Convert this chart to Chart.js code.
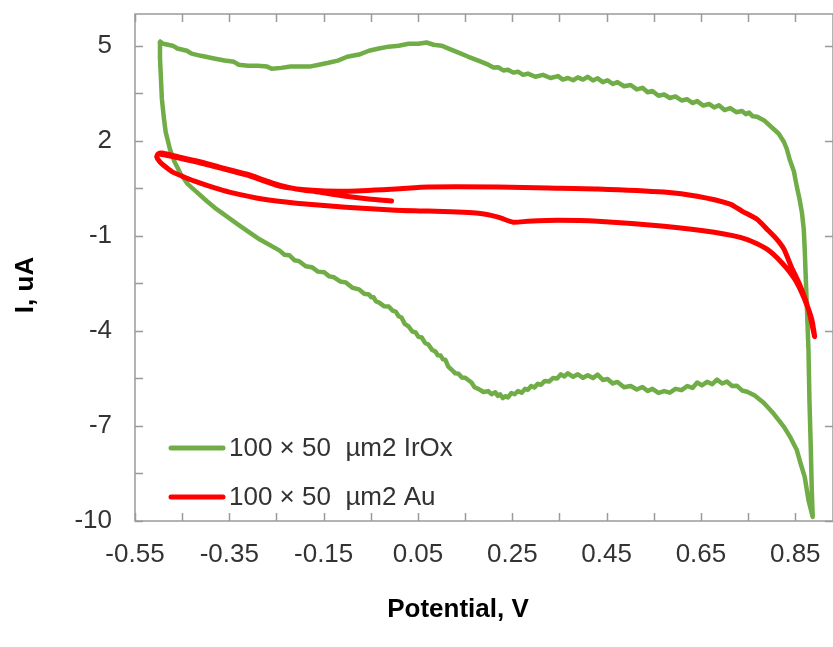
<!DOCTYPE html>
<html>
<head>
<meta charset="utf-8">
<script src="https://cdn.jsdelivr.net/npm/chart.js@4/dist/chart.umd.min.js"></script>
<style>
  html, body { margin: 0; padding: 0; background: #fff; }
  #wrap { width: 833px; height: 647px; }
</style>
</head>
<body>
<div id="wrap"><canvas id="cv" width="833" height="647"></canvas></div>
<script>
// --- SERIES DATA: [potential V, current uA], in scan order ---
const irOxCurve = [
  // forward sweep
  [-0.50, 5.16], [-0.49, 5.06], [-0.47, 5.00], [-0.46, 4.91], [-0.44, 4.84], [-0.43, 4.75],
  [-0.41, 4.68], [-0.40, 4.65], [-0.38, 4.59], [-0.36, 4.53], [-0.34, 4.49], [-0.33, 4.40],
  [-0.31, 4.37], [-0.29, 4.37], [-0.27, 4.34], [-0.26, 4.27], [-0.24, 4.30], [-0.22, 4.34],
  [-0.20, 4.34], [-0.18, 4.34], [-0.16, 4.40], [-0.14, 4.46], [-0.12, 4.53], [-0.10, 4.65],
  [-0.075, 4.72], [-0.054, 4.84], [-0.033, 4.91], [-0.012, 4.97], [0.009, 5.00], [0.030, 5.06],
  [0.051, 5.06], [0.068, 5.10], [0.083, 5.03], [0.100, 5.00], [0.115, 4.91], [0.136, 4.78],
  [0.157, 4.65], [0.178, 4.53], [0.199, 4.40], [0.210, 4.31], [0.220, 4.32], [0.231, 4.22],
  [0.241, 4.24], [0.252, 4.15], [0.262, 4.18], [0.273, 4.08], [0.283, 4.12], [0.299, 4.02],
  [0.315, 4.08], [0.331, 3.98], [0.347, 4.04], [0.357, 3.93], [0.368, 3.98], [0.379, 3.91],
  [0.389, 4.00], [0.400, 3.93], [0.410, 4.02], [0.421, 3.90], [0.431, 3.97], [0.442, 3.85],
  [0.452, 3.91], [0.463, 3.79], [0.473, 3.85], [0.487, 3.72], [0.501, 3.76], [0.514, 3.62],
  [0.526, 3.67], [0.537, 3.53], [0.547, 3.57], [0.560, 3.42], [0.572, 3.46], [0.584, 3.35],
  [0.596, 3.40], [0.609, 3.27], [0.621, 3.31], [0.632, 3.19], [0.642, 3.25], [0.655, 3.11],
  [0.667, 3.16], [0.678, 3.05], [0.688, 3.12], [0.700, 2.97], [0.712, 3.03], [0.725, 2.90],
  [0.737, 2.94], [0.745, 2.84], [0.752, 2.89], [0.760, 2.77], [0.769, 2.76], [0.785, 2.63],
  [0.804, 2.37], [0.815, 2.22], [0.826, 1.96], [0.832, 1.74], [0.838, 1.42], [0.847, 1.04],
  [0.853, 0.57], [0.859, 0.16], [0.864, -0.25], [0.868, -0.79], [0.870, -1.42], [0.874, -3.01],
  [0.878, -4.59], [0.880, -6.17], [0.883, -7.75], [0.885, -9.02], [0.887, -9.87],
  // reverse sweep
  [0.878, -9.34], [0.870, -8.61], [0.861, -8.17], [0.853, -7.75], [0.840, -7.37], [0.826, -7.03],
  [0.804, -6.61], [0.783, -6.27], [0.764, -6.04], [0.748, -5.92], [0.737, -5.88], [0.726, -5.73],
  [0.716, -5.74], [0.705, -5.60], [0.695, -5.66], [0.684, -5.54], [0.674, -5.68], [0.663, -5.61],
  [0.652, -5.72], [0.642, -5.63], [0.632, -5.80], [0.621, -5.74], [0.609, -5.87], [0.596, -5.83],
  [0.584, -5.95], [0.572, -5.90], [0.560, -5.96], [0.547, -5.83], [0.537, -5.90], [0.526, -5.77],
  [0.514, -5.85], [0.501, -5.74], [0.487, -5.78], [0.473, -5.61], [0.463, -5.66], [0.452, -5.52],
  [0.442, -5.55], [0.431, -5.38], [0.421, -5.49], [0.410, -5.40], [0.400, -5.48], [0.389, -5.37],
  [0.379, -5.45], [0.368, -5.34], [0.360, -5.44], [0.353, -5.37], [0.345, -5.50], [0.336, -5.49],
  [0.328, -5.60], [0.319, -5.58], [0.311, -5.70], [0.304, -5.67], [0.297, -5.79], [0.290, -5.74],
  [0.283, -5.86], [0.277, -5.83], [0.270, -5.95], [0.262, -5.90], [0.255, -6.00], [0.248, -5.96],
  [0.241, -6.10], [0.235, -6.06], [0.230, -6.12], [0.224, -6.00], [0.219, -6.05], [0.214, -5.94],
  [0.206, -6.00], [0.199, -5.90], [0.189, -5.93], [0.178, -5.83], [0.170, -5.78], [0.163, -5.62],
  [0.150, -5.48], [0.143, -5.47], [0.136, -5.35], [0.129, -5.34], [0.121, -5.22], [0.114, -5.12],
  [0.108, -4.91], [0.103, -4.90], [0.098, -4.78], [0.092, -4.77], [0.087, -4.65], [0.080, -4.60],
  [0.072, -4.43], [0.065, -4.38], [0.058, -4.21], [0.051, -4.19], [0.045, -4.05], [0.038, -4.02],
  [0.030, -3.86], [0.022, -3.78], [0.015, -3.58], [0.009, -3.54], [0.003, -3.39], [-0.004, -3.36],
  [-0.012, -3.23], [-0.022, -3.22], [-0.033, -3.10], [-0.039, -3.07], [-0.044, -2.94], [-0.049, -2.94],
  [-0.054, -2.85], [-0.064, -2.83], [-0.075, -2.69], [-0.089, -2.64], [-0.103, -2.47], [-0.115, -2.44],
  [-0.128, -2.31], [-0.138, -2.28], [-0.149, -2.15], [-0.162, -2.13], [-0.175, -1.99], [-0.188, -1.96],
  [-0.202, -1.80], [-0.212, -1.77], [-0.223, -1.61], [-0.233, -1.60], [-0.244, -1.46],
  [-0.286, -1.11], [-0.329, -0.67], [-0.377, -0.16], [-0.398, 0.10], [-0.419, 0.38], [-0.438, 0.63],
  [-0.453, 0.95], [-0.466, 1.33], [-0.476, 1.74], [-0.485, 2.28], [-0.489, 2.75], [-0.493, 3.32],
  [-0.495, 3.96], [-0.497, 4.59], [-0.497, 5.16]
];

const auCurve = [
  // from open circuit towards the negative limit
  [-0.006, 0.10], [-0.054, 0.16], [-0.103, 0.25], [-0.160, 0.38], [-0.208, 0.48], [-0.244, 0.60],
  [-0.276, 0.76], [-0.314, 0.95], [-0.371, 1.17], [-0.419, 1.36], [-0.466, 1.52], [-0.493, 1.61],
  [-0.501, 1.58],
  // forward sweep
  [-0.504, 1.49], [-0.497, 1.33], [-0.482, 1.14], [-0.470, 1.01], [-0.445, 0.85], [-0.419, 0.70],
  [-0.381, 0.51], [-0.350, 0.38], [-0.280, 0.16], [-0.208, 0.03], [-0.103, -0.10], [0.003, -0.19],
  [0.072, -0.22], [0.178, -0.29], [0.220, -0.41], [0.252, -0.57], [0.283, -0.54], [0.347, -0.51],
  [0.431, -0.54], [0.572, -0.70], [0.678, -0.89], [0.747, -1.11], [0.790, -1.42], [0.821, -1.84],
  [0.849, -2.37], [0.870, -3.01], [0.885, -3.64], [0.891, -4.18],
  // reverse sweep
  [0.878, -3.32], [0.859, -2.53], [0.842, -1.99], [0.826, -1.42], [0.811, -1.11], [0.790, -0.79],
  [0.769, -0.48], [0.737, -0.22], [0.712, 0.00], [0.642, 0.25], [0.572, 0.38], [0.431, 0.48],
  [0.326, 0.51], [0.220, 0.54], [0.072, 0.54], [0.003, 0.48], [-0.103, 0.41], [-0.174, 0.44],
  [-0.244, 0.57], [-0.314, 0.92], [-0.419, 1.33], [-0.476, 1.52], [-0.497, 1.58]
];

const seriesLabels = ['100 \u00d7 50  \u00b5m2 IrOx', '100 \u00d7 50  \u00b5m2 Au'];

// --- AXES ---
const xTicks = [-0.55, -0.35, -0.15, 0.05, 0.25, 0.45, 0.65, 0.85];
const yTicks = [-10, -7, -4, -1, 2, 5];
const xMin = -0.55, xMax = 0.93, xMinorStep = 0.1;
const yMin = -10, yMax = 6, yMinorStep = 1.5;
const xTitle = 'Potential, V';
const yTitle = 'I, uA';

const FONT = '"Liberation Sans", Arial, sans-serif';
const FONT_SIZE = 26;
const AXIS_COLOR = '#9a9a9a';
const TEXT_COLOR = '#333333';

const toPoints = pairs => pairs.map(([v, i]) => ({ x: v, y: i }));

// box frame with inward tick marks on all four sides
const framePlugin = {
  id: 'frame',
  beforeDatasetsDraw(chart) {
    const { ctx, chartArea: a, scales: { x, y } } = chart;
    const len = 8;
    ctx.save();
    ctx.strokeStyle = AXIS_COLOR;
    ctx.lineWidth = 1.5;
    ctx.strokeRect(a.left, a.top, a.right - a.left, a.bottom - a.top);
    ctx.beginPath();
    for (let i = 0; ; i++) {
      const v = xMin + i * xMinorStep;
      if (v > xMax + 1e-9) break;
      const px = Math.round(x.getPixelForValue(v)) + 0.5;
      ctx.moveTo(px, a.bottom); ctx.lineTo(px, a.bottom - len);
      ctx.moveTo(px, a.top); ctx.lineTo(px, a.top + len);
    }
    for (let i = 0; ; i++) {
      const v = yMin + i * yMinorStep;
      if (v > yMax + 1e-9) break;
      const py = Math.round(y.getPixelForValue(v)) + 0.5;
      ctx.moveTo(a.left, py); ctx.lineTo(a.left + len, py);
    }
    yTicks.forEach(v => {
      const py = Math.round(y.getPixelForValue(v)) + 0.5;
      ctx.moveTo(a.right, py); ctx.lineTo(a.right - len, py);
    });
    ctx.stroke();
    ctx.restore();
  },
  afterDraw(chart) {
    const { ctx, chartArea: a } = chart;
    ctx.save();
    // legend inside the plot, lower left
    ctx.font = FONT_SIZE + 'px ' + FONT;
    ctx.textBaseline = 'middle';
    ctx.textAlign = 'left';
    const rows = [a.bottom - 73, a.bottom - 24];
    chart.data.datasets.forEach((ds, i) => {
      const yy = rows[i];
      ctx.strokeStyle = ds.borderColor;
      ctx.lineWidth = 5;
      ctx.lineCap = 'round';
      ctx.beginPath();
      ctx.moveTo(a.left + 36, yy);
      ctx.lineTo(a.left + 88, yy);
      ctx.stroke();
      ctx.fillStyle = TEXT_COLOR;
      ctx.fillText(ds.label, a.left + 94, yy + 1);
    });
    // axis titles
    ctx.font = 'bold ' + FONT_SIZE + 'px ' + FONT;
    ctx.fillStyle = '#000';
    ctx.textAlign = 'center';
    ctx.fillText(xTitle, 458, 610);
    ctx.translate(26, 285);
    ctx.rotate(-Math.PI / 2);
    ctx.fillText(yTitle, 0, 0);
    ctx.restore();
  }
};

new Chart(document.getElementById('cv'), {
  type: 'scatter',
  data: {
    datasets: [
      {
        label: seriesLabels[0],
        data: toPoints(irOxCurve),
        showLine: true,
        borderColor: '#70ad47',
        borderWidth: 4.5,
        pointRadius: 0,
        tension: 0,
        borderJoinStyle: 'round',
        order: 1
      },
      {
        label: seriesLabels[1],
        data: toPoints(auCurve),
        showLine: true,
        borderColor: '#ff0000',
        borderWidth: 5,
        pointRadius: 0,
        tension: 0.2,
        borderJoinStyle: 'round',
        borderCapStyle: 'round',
        order: 0
      }
    ]
  },
  options: {
    responsive: false,
    animation: false,
    layout: { padding: { top: 14, right: 0, bottom: 0, left: 0 } },
    plugins: { legend: { display: false }, tooltip: { enabled: false } },
    scales: {
      x: {
        type: 'linear',
        min: xMin,
        max: xMax,
        afterBuildTicks: scale => { scale.ticks = xTicks.map(v => ({ value: v })); },
        afterFit: scale => {
          scale.height = 126;
          scale.paddingLeft = 0;
          scale.paddingRight = 0;
        },
        grid: { display: false, drawTicks: false },
        border: { display: false },
        ticks: {
          padding: 18,
          color: TEXT_COLOR,
          font: { family: FONT, size: FONT_SIZE },
          maxRotation: 0,
          autoSkip: false,
          callback: v => v.toFixed(2)
        }
      },
      y: {
        type: 'linear',
        min: yMin,
        max: yMax,
        afterBuildTicks: scale => { scale.ticks = yTicks.map(v => ({ value: v })); },
        afterFit: scale => {
          scale.width = 135;
          scale.paddingTop = 0;
          scale.paddingBottom = 0;
        },
        grid: { display: false, drawTicks: false },
        border: { display: false },
        ticks: {
          padding: 23,
          color: TEXT_COLOR,
          font: { family: FONT, size: FONT_SIZE },
          autoSkip: false,
          callback: v => String(v)
        }
      }
    }
  },
  plugins: [framePlugin]
});
</script>
</body>
</html>
